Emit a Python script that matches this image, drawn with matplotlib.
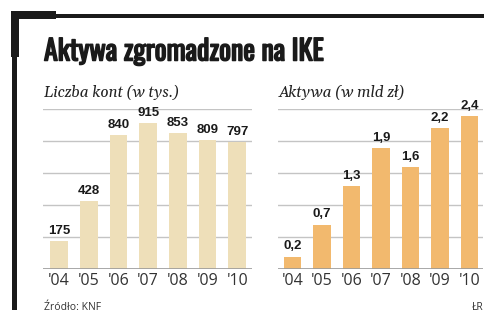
import matplotlib
matplotlib.use("Agg")
import matplotlib.pyplot as plt
from matplotlib.patches import Rectangle
import matplotlib.patheffects as pe

years = ["'04", "'05", "'06", "'07", "'08", "'09", "'10"]
accounts = [175, 428, 840, 915, 853, 809, 797]
accounts_labels = ["175", "428", "840", "915", "853", "809", "797"]
assets = [0.2, 0.7, 1.3, 1.9, 1.6, 2.2, 2.4]
assets_labels = ["0,2", "0,7", "1,3", "1,9", "1,6", "2,2", "2,4"]

W, H = 500, 323
fig = plt.figure(figsize=(5, 3.23), dpi=100)
fig.patch.set_facecolor("white")

def fx(px):
    return px / W

def fy(py):
    return 1 - py / H

# decorative bracket
dark = "#1a1a1a"
fig.add_artist(Rectangle((fx(11), fy(19)), fx(45), 8 / H, color=dark, transform=fig.transFigure, lw=0))
fig.add_artist(Rectangle((fx(11), fy(57)), fx(8), 46 / H, color=dark, transform=fig.transFigure, lw=0))
fig.add_artist(Rectangle((fx(55), fy(17.5)), fx(429), 3.5 / H, color=dark, transform=fig.transFigure, lw=0))
fig.add_artist(Rectangle((fx(12), fy(310)), fx(4.5), 254 / H, color=dark, transform=fig.transFigure, lw=0))

title_font = ["Oswald", "Fira Sans Extra Condensed", "Liberation Sans", "DejaVu Sans"]
title = fig.text(fx(44), fy(60.5), "Aktywa zgromadzone na IKE", fontsize=15, fontweight="bold",
                 family=title_font, color=dark, va="baseline", ha="left",
                 path_effects=[pe.withStroke(linewidth=1.1, foreground=dark)])
renderer = fig.canvas.get_renderer()
w = title.get_window_extent(renderer).width
title.set_fontsize(15 * 279 / w)

serif = ["Gelasio", "Liberation Serif", "DejaVu Serif"]
fig.text(fx(44), fy(97), "Liczba kont (w tys.)", fontsize=11, style="italic",
         family=serif, color="#222222", va="baseline", ha="left")
fig.text(fx(279), fy(97), "Aktywa (w mld zł)", fontsize=11, style="italic",
         family=serif, color="#222222", va="baseline", ha="left")

sans = ["Liberation Sans", "DejaVu Sans"]
tick_font = ["Open Sans", "Liberation Sans", "DejaVu Sans"]
fig.text(fx(44), fy(310), "Źródło: KNF", fontsize=7.5, family=tick_font, color="#333333",
         va="baseline", ha="left")
fig.text(fx(484), fy(310), "ŁR", fontsize=7.5, family=tick_font, color="#333333",
         va="baseline", ha="right")

bottom = fy(269.3)
height = 160 / H

def draw(ax, values, labels, color, ymax, step, xlim):
    x = list(range(len(values)))
    ax.set_xlim(*xlim)
    ax.set_ylim(0, ymax)
    ticks = [i * step for i in range(1, int(round(ymax / step)) + 1)]
    for t in ticks:
        ax.axhline(t, color="#c4c4c4", lw=1, zorder=0)
    ax.axhline(0, color="#9a9a9a", lw=1.2, zorder=3)
    ax.bar(x, values, width=0.6, color=color, zorder=2)
    for xi, v, lab in zip(x, values, labels):
        ax.annotate(lab, (xi, v), xytext=(0, 3), textcoords="offset points",
                    ha="center", va="bottom", fontsize=9.5, fontweight="bold",
                    family=sans, color=dark, annotation_clip=False)
    ax.set_xticks(x)
    ax.set_xticklabels(years, fontsize=11.5, family=tick_font, color="#333333")
    ax.tick_params(axis="x", length=0, pad=3)
    ax.set_yticks([])
    for s in ax.spines.values():
        s.set_visible(False)
    ax.patch.set_alpha(0)

ax1 = fig.add_axes([fx(43), bottom, 209 / W, height])
draw(ax1, accounts, accounts_labels, "#eedfb9", 1000, 200, (-0.54, 6.5))

ax2 = fig.add_axes([fx(278), bottom, 205 / W, height])
draw(ax2, assets, assets_labels, "#f2b96e", 2.5, 0.5, (-0.49, 6.46))

fig.savefig("out.png", dpi=100, facecolor="white")
